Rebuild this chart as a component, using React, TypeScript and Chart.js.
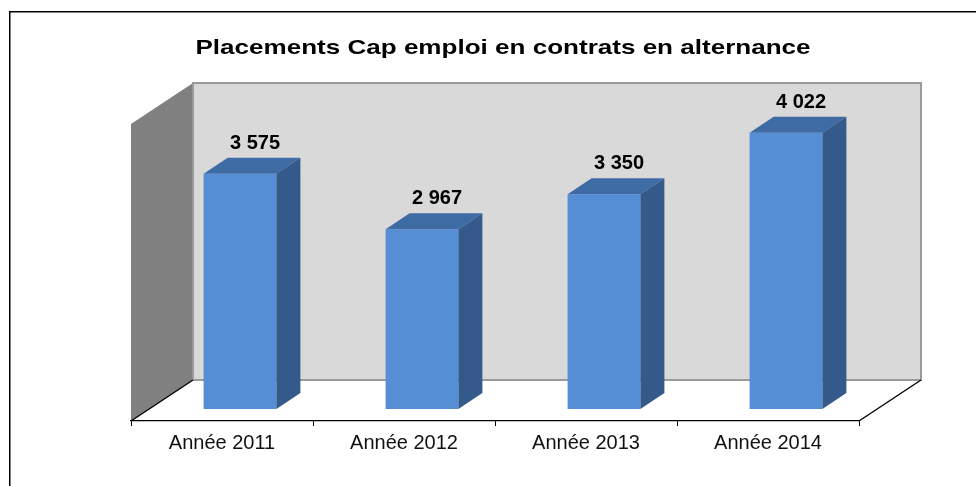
import React, { useEffect, useRef } from 'react';
import { Chart, registerables } from 'chart.js';

Chart.register(...registerables);

const categories = ['Année 2011', 'Année 2012', 'Année 2013', 'Année 2014'];
const placements = [3575, 2967, 3350, 4022];
const titleText = 'Placements Cap emploi en contrats en alternance';
const axisMin = 1000;
const axisMax = 4250;

const fmt = (v: number) => String(v).replace(/\B(?=(\d{3})+(?!\d))/g, ' ');

const WALL_DX = 62;
const WALL_DY = 41;
const BAR_SHIFT_X = 18;
const BAR_SHIFT_Y = 12;
const BAR_DX = 24;
const BAR_DY = 16;
const FONT = '"Liberation Sans", Arial, sans-serif';

const threeD = {
  id: 'threeD',
  beforeDraw(chart: any) {
    const { ctx, chartArea: a } = chart;
    ctx.save();
    ctx.fillStyle = '#ffffff';
    ctx.fillRect(0, 0, chart.width, chart.height);
    // outer frame
    ctx.strokeStyle = '#000';
    ctx.lineWidth = 1.5;
    ctx.beginPath();
    ctx.moveTo(9.75, 600);
    ctx.lineTo(9.75, 11.75);
    ctx.lineTo(1200, 11.75);
    ctx.stroke();

    const bl = a.left + WALL_DX, bt = a.top - WALL_DY;
    const br = a.right + WALL_DX, bb = a.bottom - WALL_DY;
    // back wall
    ctx.fillStyle = '#d9d9d9';
    ctx.fillRect(bl, bt, br - bl, bb - bt);
    // side wall
    ctx.fillStyle = '#808080';
    ctx.beginPath();
    ctx.moveTo(a.left, a.top);
    ctx.lineTo(bl, bt);
    ctx.lineTo(bl, bb);
    ctx.lineTo(a.left, a.bottom);
    ctx.closePath();
    ctx.fill();
    // back wall border
    ctx.strokeStyle = '#9a9a9a';
    ctx.lineWidth = 2;
    ctx.strokeRect(bl, bt, br - bl, bb - bt);
    // floor side edges
    ctx.strokeStyle = '#000';
    ctx.lineWidth = 1.4;
    ctx.beginPath();
    ctx.moveTo(a.left, a.bottom);
    ctx.lineTo(bl, bb);
    ctx.moveTo(a.right, a.bottom);
    ctx.lineTo(br, bb);
    ctx.stroke();
    ctx.restore();
  },
  beforeDatasetsDraw(chart: any) {
    chart.ctx.save();
    chart.ctx.translate(BAR_SHIFT_X, -BAR_SHIFT_Y);
  },
  afterDatasetsDraw(chart: any) {
    const ctx = chart.ctx;
    const meta = chart.getDatasetMeta(0);
    meta.data.forEach((el: any, i: number) => {
      const { x, y, base, width } = el.getProps(['x', 'y', 'base', 'width'], true);
      const l = x - width / 2, r = x + width / 2;
      // top face
      ctx.fillStyle = '#3f6ba5';
      ctx.beginPath();
      ctx.moveTo(l, y);
      ctx.lineTo(l + BAR_DX, y - BAR_DY);
      ctx.lineTo(r + BAR_DX, y - BAR_DY);
      ctx.lineTo(r, y);
      ctx.closePath();
      ctx.fill();
      // side face
      ctx.fillStyle = '#335a8a';
      ctx.beginPath();
      ctx.moveTo(r, y);
      ctx.lineTo(r + BAR_DX, y - BAR_DY);
      ctx.lineTo(r + BAR_DX, base - BAR_DY);
      ctx.lineTo(r, base);
      ctx.closePath();
      ctx.fill();
      // value label
      ctx.fillStyle = '#000';
      ctx.font = `bold 20px ${FONT}`;
      ctx.textAlign = 'center';
      ctx.textBaseline = 'alphabetic';
      ctx.fillText(fmt(placements[i]), x + BAR_DX / 2 + 3, y - BAR_DY - 9);
    });
    ctx.restore();
  },
  afterDraw(chart: any) {
    const ctx = chart.ctx;
    ctx.save();
    ctx.fillStyle = '#000';
    ctx.font = `bold 21px ${FONT}`;
    ctx.textAlign = 'center';
    ctx.textBaseline = 'alphabetic';
    ctx.translate(503, 54);
    ctx.scale(1.24, 1);
    ctx.fillText(titleText, 0, 0);
    ctx.restore();
  },
};

export default function App() {
  const ref = useRef<HTMLCanvasElement>(null);
  useEffect(() => {
    if (!ref.current) return;
    const chart = new Chart(ref.current, {
      type: 'bar',
      data: {
        labels: categories,
        datasets: [
          {
            data: placements,
            backgroundColor: '#558ed5',
            borderWidth: 0,
            barPercentage: 0.4,
            categoryPercentage: 1,
            base: axisMin,
            clip: false as any,
          } as any,
        ],
      },
      options: {
        animation: false,
        responsive: false,
        devicePixelRatio: 1,
        layout: { padding: { left: 131, right: 117, top: 124, bottom: 0 } },
        plugins: { legend: { display: false }, tooltip: { enabled: false }, title: { display: false } },
        scales: {
          x: {
            grid: { display: true, drawOnChartArea: false, drawTicks: true, tickLength: 5, tickColor: '#000', offset: true },
            border: { display: true, color: '#000', width: 1.2 },
            ticks: { color: '#111', font: { family: FONT, size: 20 }, padding: 5, maxRotation: 0, autoSkip: false },
            afterFit: (s: any) => { s.height = 65; },
          },
          y: { display: false, beginAtZero: false, min: axisMin, max: axisMax },
        },
      },
      plugins: [threeD],
    });
    return () => chart.destroy();
  }, []);
  return (
    <div style={{ position: 'fixed', left: 0, top: 0, width: 976, height: 486, background: '#fff' }}>
      <canvas ref={ref} width={976} height={486} style={{ display: 'block', width: 976, height: 486 }} />
    </div>
  );
}
